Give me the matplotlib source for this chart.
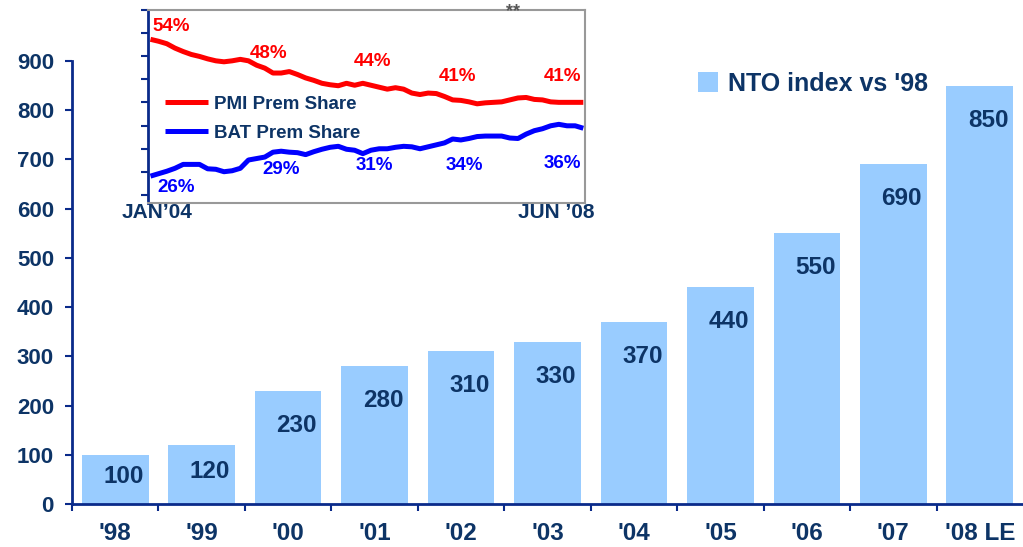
import numpy as np
import matplotlib.pyplot as plt

plt.rcParams['font.family'] = ['Liberation Sans', 'DejaVu Sans']
plt.rcParams['font.weight'] = 'bold'

# main chart data
years = ["'98", "'99", "'00", "'01", "'02", "'03", "'04", "'05", "'06", "'07", "'08 LE"]
nto_index = [100, 120, 230, 280, 310, 330, 370, 440, 550, 690, 850]

# inset: monthly premium share, Jan'04 .. Jun'08
pmi_share = [54.0, 53.6, 53.1, 52.2, 51.5, 50.9, 50.5, 50.0, 49.6, 49.4,
             49.6, 49.9, 49.6, 48.7, 48.1, 47.1, 47.1, 47.4, 46.8, 46.1,
             45.6, 45.0, 44.7, 44.5, 45.0, 44.6, 45.0, 44.6, 44.2, 43.8,
             44.1, 43.8, 43.0, 42.7, 43.0, 42.9, 42.3, 41.6, 41.5, 41.2,
             40.8, 41.0, 41.1, 41.2, 41.6, 42.0, 42.1, 41.7, 41.6, 41.2,
             41.1, 41.1, 41.1, 41.1]
bat_share = [26.0, 26.5, 27.0, 27.6, 28.4, 28.4, 28.4, 27.5, 27.4, 26.9,
             27.1, 27.6, 29.3, 29.6, 29.9, 30.9, 31.1, 30.9, 30.8, 30.4,
             31.0, 31.5, 31.9, 32.1, 31.5, 31.3, 30.6, 31.3, 31.6, 31.6,
             31.9, 32.1, 32.0, 31.6, 32.0, 32.4, 32.8, 33.6, 33.4, 33.7,
             34.1, 34.2, 34.2, 34.2, 33.8, 33.7, 34.6, 35.3, 35.7, 36.3,
             36.6, 36.3, 36.3, 35.8]
pmi_labels = ['54%', '48%', '44%', '41%', '41%']
bat_labels = ['26%', '29%', '31%', '34%', '36%']

# where the share labels sit (month, share)
pmi_lab_pos = [(2.5, 56.7), (14.4, 51.2), (27.2, 49.4), (37.6, 46.3), (50.4, 46.3)]
bat_lab_pos = [(3.1, 23.6), (16.0, 27.3), (27.4, 28.1), (38.4, 28.1), (50.4, 28.5)]

navy = '#0a2a8a'
txt = '#0d3466'
bar_c = '#99ccff'

fig = plt.figure(figsize=(10.23, 5.47), dpi=100)
ax = fig.add_axes([0.0704, 0.0786, 0.9296, 0.81])

x = np.arange(len(years))
bars = ax.bar(x, nto_index, width=0.77, color=bar_c, label="NTO index vs '98")
for xi, v in zip(x, nto_index):
    ax.annotate(str(v), (xi, v - min(70, 0.45 * v)), xytext=(6, 0),
                textcoords='offset points', ha='center', va='center',
                fontsize=17.5, color=txt, fontweight='bold')

ax.set_xlim(-0.5, len(years) - 0.5)
ax.set_ylim(0, 900)
ax.set_yticks(range(0, 1000, 100))
ax.set_xticks(x)
ax.set_xticklabels(years)
ax.set_xticks(np.arange(-0.5, len(years) - 0.5, 1), minor=True)
ax.tick_params(axis='x', which='major', length=0, pad=13, labelsize=17.5, labelcolor=txt)
ax.tick_params(axis='x', which='minor', length=5, width=1.5, color=navy, direction='out')
ax.tick_params(axis='y', length=5, width=1.5, color=navy, pad=8, labelsize=16, labelcolor=txt)
for s in ['top', 'right']:
    ax.spines[s].set_visible(False)
for s in ['left', 'bottom']:
    ax.spines[s].set_color(navy)
    ax.spines[s].set_linewidth(2)

leg = ax.legend(loc='upper left', bbox_to_anchor=(0.66, 0.91), bbox_transform=fig.transFigure,
                frameon=False, handlelength=0.8, handleheight=0.8, handletextpad=0.4,
                prop={'size': 18, 'weight': 'bold'})
for t in leg.get_texts():
    t.set_color(txt)

# inset chart
ins = fig.add_axes([0.1447, 0.6289, 0.4271, 0.3528])
m = np.arange(len(pmi_share))
ins.plot(m, pmi_share, color='#ff0000', lw=3.6, solid_capstyle='butt', label='PMI Prem Share')
ins.plot(m, bat_share, color='#0000ff', lw=3.6, solid_capstyle='butt', label='BAT Prem Share')
ins.set_xlim(-0.3, 53.2)
ins.set_ylim(20.5, 60)
ins.set_yticks(60 - 4.73 * np.arange(9))
ins.set_yticklabels([])
ins.set_xticks([])
ins.tick_params(axis='y', length=5, width=1.5, color=navy)
ins.spines['left'].set_color(navy)
ins.spines['left'].set_linewidth(2)
for s in ['top', 'right', 'bottom']:
    ins.spines[s].set_color('#999999')
    ins.spines[s].set_linewidth(1.5)

for lab, (lx, ly) in zip(pmi_labels, pmi_lab_pos):
    ins.text(lx, ly, lab, ha='center', va='center', color='#ff0000',
             fontsize=13.5, fontweight='bold')
for lab, (lx, ly) in zip(bat_labels, bat_lab_pos):
    ins.text(lx, ly, lab, ha='center', va='center', color='#0000ff',
             fontsize=13.5, fontweight='bold')

ileg = ins.legend(loc='upper left', bbox_to_anchor=(0.0, 0.645), frameon=False,
                  handlelength=2.3, handletextpad=0.3, labelspacing=0.65,
                  prop={'size': 13.5, 'weight': 'bold'})
for t in ileg.get_texts():
    t.set_color(txt)

fig.text(157 / 1023, 1 - 213 / 547, "JAN\u201904", ha='center', va='center',
         fontsize=15, color=txt, fontweight='bold')
fig.text(594 / 1023, 1 - 213 / 547, "JUN \u201908", ha='right', va='center',
         fontsize=15, color=txt, fontweight='bold')
fig.text(513 / 1023, 1 - 12 / 547, "**", ha='center', va='center',
         fontsize=13, color='#555555')

fig.savefig('out.png', dpi=100)
